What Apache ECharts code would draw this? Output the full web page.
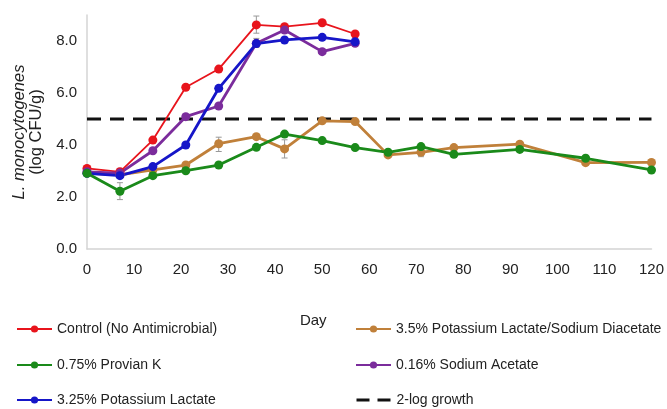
<!DOCTYPE html>
<html>
<head>
<meta charset="utf-8">
<script src="https://cdn.jsdelivr.net/npm/echarts@6/dist/echarts.min.js"></script>
<style>
  html, body { margin: 0; padding: 0; background: #fff; }
  #chart { width: 667px; height: 409px; }
</style>
</head>
<body>
<div id="chart"></div>
<script>
// sampling days
var daysShort = [0, 7, 14, 21, 28, 36, 42, 50, 57];
var daysLong = [0, 7, 14, 21, 28, 36, 42, 50, 57, 64, 71, 78, 92, 106, 120];

// log CFU/g values
var control = [3.1, 2.97, 4.19, 6.22, 6.92, 8.62, 8.55, 8.7, 8.27];
var sodiumAcetate = [2.97, 2.92, 3.78, 5.09, 5.5, 7.91, 8.42, 7.59, 7.91];
var potLactate = [2.91, 2.82, 3.17, 4.0, 6.18, 7.9, 8.04, 8.14, 7.97];
var lactateDiacetate = [2.92, 2.85, 3.04, 3.23, 4.05, 4.32, 3.85, 4.93, 4.9, 3.62, 3.72, 3.9, 4.03, 3.32, 3.33];
var provianK = [2.91, 2.22, 2.82, 3.01, 3.23, 3.91, 4.42, 4.17, 3.9, 3.72, 3.94, 3.64, 3.83, 3.49, 3.04];
var growthLimit = 5.0;

// error bars [day, low, high]
var errBars = [
  [7, 1.9, 2.55], [36, 8.3, 8.96], [28, 3.75, 4.3], [42, 3.5, 4.2],
  [7, 2.75, 3.1], [71, 3.55, 3.85], [36, 7.75, 8.1], [14, 2.95, 3.15]
];

var names = ['Control (No Antimicrobial)', '0.75% Provian K', '3.25% Potassium Lactate',
  '3.5% Potassium Lactate/Sodium Diacetate', '0.16% Sodium Acetate', '2-log growth'];

function pairs(xs, ys) {
  return ys.map(function (v, i) { return [xs[i], v]; });
}

var font = '"Liberation Sans", Arial, sans-serif';

var chart = echarts.init(document.getElementById('chart'));

function lineSeries(name, color, data, width) {
  return {
    name: name,
    type: 'line',
    data: data,
    symbol: 'circle',
    symbolSize: 9,
    itemStyle: { color: color },
    lineStyle: { color: color, width: width },
    z: 3
  };
}

// one legend per entry: two columns, three rows
var legendPos = [[16, 322], [16, 358], [16, 393], [355, 322], [355, 358], [355, 393]];
var legends = names.map(function (n, i) {
  var lg = {
    left: legendPos[i][0], top: legendPos[i][1], padding: 0,
    itemWidth: 35, itemHeight: 9, itemGap: 4,
    textStyle: { fontSize: 14, color: '#222', fontFamily: font },
    data: [n]
  };
  if (i === 5) {
    lg.itemStyle = { opacity: 0 };
    lg.lineStyle = { type: [13, 8], width: 3 };
  }
  return lg;
});

var option = {
  animation: false,
  backgroundColor: '#fff',
  textStyle: { fontFamily: font },
  grid: { left: 87, right: 14, top: 15, bottom: 160 },
  legend: legends,
  xAxis: {
    type: 'value', min: 0, max: 120, interval: 10,
    name: 'Day', nameLocation: 'middle', nameGap: 64,
    nameTextStyle: { fontSize: 15, color: '#222', fontFamily: font, padding: [0, 112, 0, 0] },
    axisLine: { lineStyle: { color: '#d4d4d4', width: 1.5 } },
    axisTick: { show: false },
    splitLine: { show: false },
    axisLabel: { fontSize: 15, color: '#222', margin: 13 }
  },
  yAxis: {
    type: 'value', min: 0, max: 9, interval: 2,
    name: '{i|L. monocytogenes}\n(log CFU/g)', nameLocation: 'middle', nameGap: 33,
    nameTextStyle: {
      fontSize: 16.5, color: '#222', fontFamily: font, lineHeight: 17,
      rich: { i: { fontStyle: 'italic', fontSize: 16.5, color: '#222', fontFamily: font, lineHeight: 17 } }
    },
    axisLine: { show: true, lineStyle: { color: '#d4d4d4', width: 1.5 } },
    axisTick: { show: false },
    splitLine: { show: false },
    axisLabel: {
      fontSize: 15, color: '#222', margin: 10,
      formatter: function (v) { return v > 8 ? '' : v.toFixed(1); }
    }
  },
  series: [
    {
      type: 'custom',
      name: 'err',
      data: errBars,
      z: 2,
      renderItem: function (params, api) {
        var x = api.value(0);
        var lo = api.coord([x, api.value(1)]);
        var hi = api.coord([x, api.value(2)]);
        var w = 3;
        var st = { stroke: '#999', lineWidth: 1 };
        return {
          type: 'group',
          children: [
            { type: 'line', shape: { x1: lo[0], y1: lo[1], x2: hi[0], y2: hi[1] }, style: st },
            { type: 'line', shape: { x1: lo[0] - w, y1: lo[1], x2: lo[0] + w, y2: lo[1] }, style: st },
            { type: 'line', shape: { x1: hi[0] - w, y1: hi[1], x2: hi[0] + w, y2: hi[1] }, style: st }
          ]
        };
      }
    },
    lineSeries(names[0], '#e8141c', pairs(daysShort, control), 1.8),
    lineSeries(names[3], '#c0803a', pairs(daysLong, lactateDiacetate), 2.8),
    lineSeries(names[4], '#7b2c9c', pairs(daysShort, sodiumAcetate), 2.8),
    lineSeries(names[2], '#1616c8', pairs(daysShort, potLactate), 2.8),
    lineSeries(names[1], '#1a8a1a', pairs(daysLong, provianK), 2.8),
    {
      name: names[5],
      type: 'line',
      data: [[0, growthLimit], [120, growthLimit]],
      symbol: 'none',
      itemStyle: { color: '#111' },
      lineStyle: { color: '#111', width: 3, type: [14, 9] },
      z: 1
    }
  ]
};

chart.setOption(option);
</script>
</body>
</html>
